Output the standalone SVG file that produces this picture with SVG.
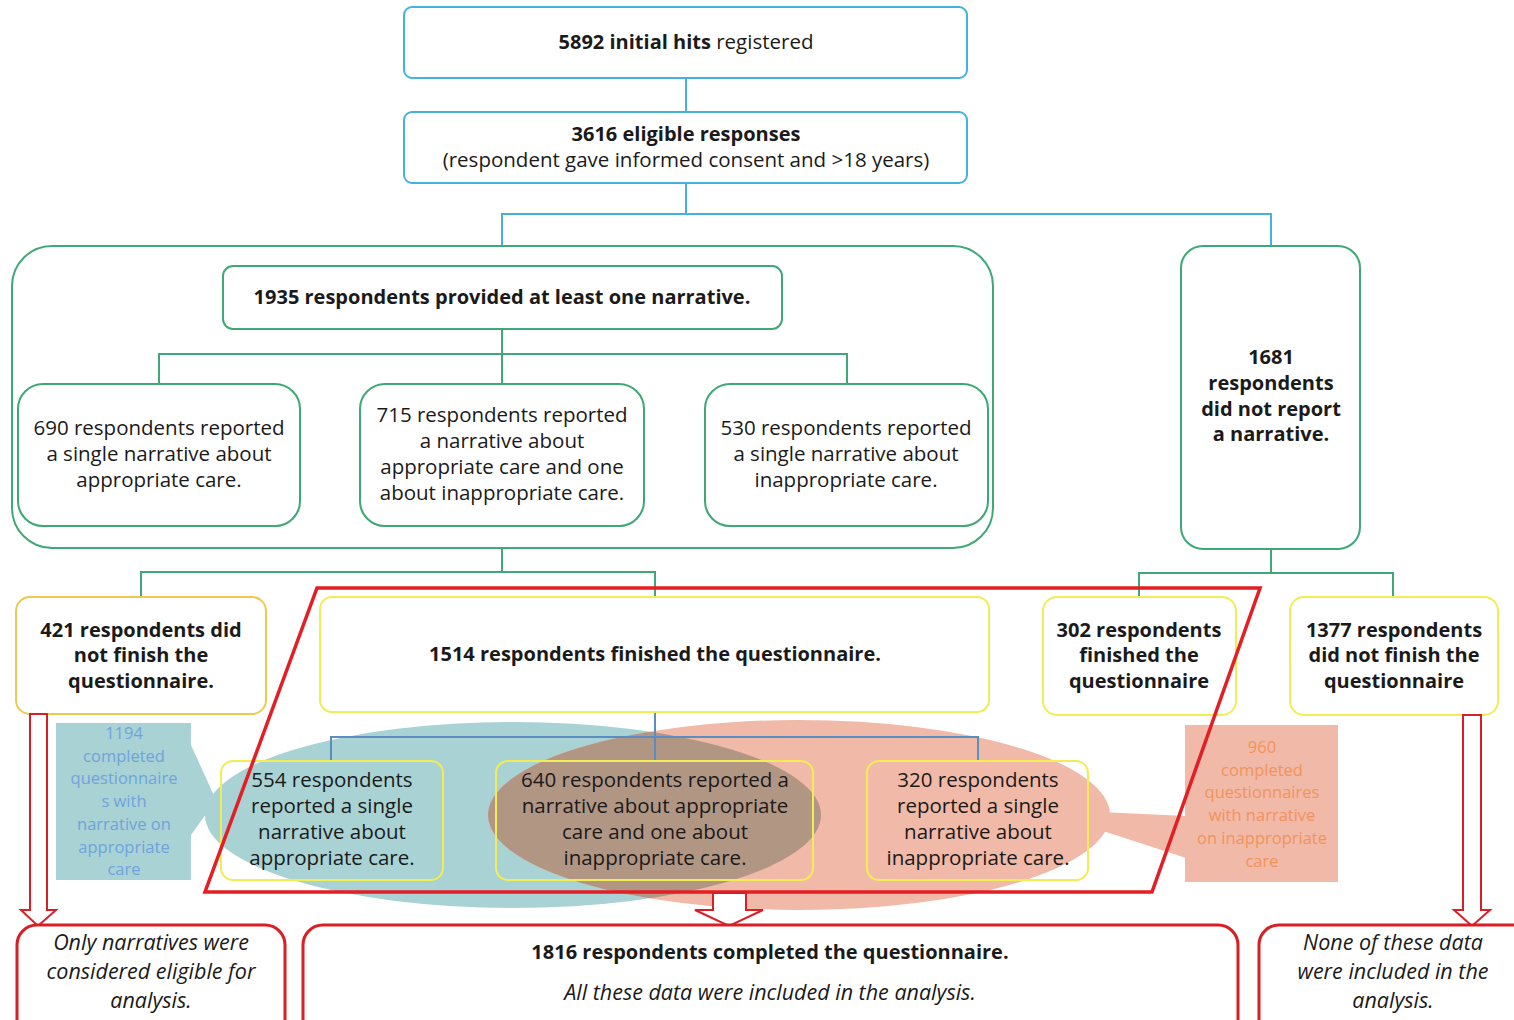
<svg xmlns="http://www.w3.org/2000/svg" width="1514" height="1020" viewBox="0 0 1514 1020">
<defs>
<style>
text{font-family:"Open Sans","Noto Sans","Liberation Sans",sans-serif;fill:#1a1a1a;text-anchor:middle}
.t{font-size:20.5px}
.b{font-weight:bold;font-size:20px}
.i{font-style:italic;font-size:21.5px}
.bluebox{fill:#fff;stroke:#45b1e0;stroke-width:2}
.greenbox{fill:none;stroke:#3fa877;stroke-width:2}
.yel{fill:none;stroke:#f2ec55;stroke-width:2}
.gold{fill:#fff;stroke:#f0c84e;stroke-width:2}
.redbox{fill:#fff;stroke:#d81f26;stroke-width:3}
.cb{fill:none;stroke:#45b1e0;stroke-width:2}
.cg{fill:none;stroke:#3fa877;stroke-width:2}
.cs{fill:none;stroke:#5a8ec0;stroke-width:2}
.arrow{fill:#fff;stroke:#d81f26;stroke-width:2}
.ct{font-size:16.5px;fill:#6fa3dc}
.co{font-size:16.5px;fill:#f2935a}
</style>
<clipPath id="tealClip"><ellipse cx="513" cy="815" rx="308" ry="93"/></clipPath>
</defs>

<g id="highlights">
<polygon points="191,745 216,800 191,835" fill="#a9d2d5"/>
<rect x="56" y="723" width="135" height="157" fill="#a9d2d5"/>
<polygon points="1100,812 1186,816 1186,858 1100,830" fill="#f1b9a7"/>
<rect x="1185" y="725" width="153" height="157" fill="#f1b9a7"/>
<ellipse cx="513" cy="815" rx="308" ry="93" fill="#a9d2d5"/>
<ellipse cx="799" cy="815" rx="311" ry="95" fill="#f1b9a7"/>
<ellipse cx="799" cy="815" rx="311" ry="95" fill="#b29684" clip-path="url(#tealClip)"/>
<text class="ct" x="124" y="739">1194</text>
<text class="ct" x="124" y="762">completed</text>
<text class="ct" x="124" y="784">questionnaire</text>
<text class="ct" x="124" y="807">s with</text>
<text class="ct" x="124" y="830">narrative on</text>
<text class="ct" x="124" y="853">appropriate</text>
<text class="ct" x="124" y="875">care</text>
<text class="co" x="1262" y="753">960</text>
<text class="co" x="1262" y="776">completed</text>
<text class="co" x="1262" y="798">questionnaires</text>
<text class="co" x="1262" y="821">with narrative</text>
<text class="co" x="1262" y="844">on inappropriate</text>
<text class="co" x="1262" y="867">care</text>
</g>

<g id="connectors">
<line class="cb" x1="686" y1="78" x2="686" y2="112"/>
<polyline class="cb" points="686,183 686,214"/>
<polyline class="cb" points="502,246 502,214 1271,214 1271,246"/>
<polyline class="cg" points="502,329 502,354"/>
<polyline class="cg" points="159,384 159,354 847,354 847,384"/>
<line class="cg" x1="502" y1="354" x2="502" y2="384"/>
<polyline class="cg" points="502,548 502,572"/>
<polyline class="cg" points="141,597 141,572 655,572 655,597"/>
<polyline class="cg" points="1271,549 1271,573"/>
<polyline class="cg" points="1139,597 1139,573 1393,573 1393,597"/>
<polyline class="cs" points="655,712 655,761"/>
<polyline class="cs" points="331,761 331,737 978,737 978,761"/>
</g>

<g id="n5892">
<rect class="bluebox" x="404" y="7" width="563" height="71" rx="8"/>
<text class="t" x="686" y="49"><tspan class="b">5892 initial hits</tspan> registered</text>
</g>
<g id="n3616">
<rect class="bluebox" x="404" y="112" width="563" height="71" rx="8"/>
<text class="t b" x="686" y="141">3616 eligible responses</text>
<text class="t" x="686" y="167">(respondent gave informed consent and &gt;18 years)</text>
</g>
<g id="narrativeGroup">
<rect class="greenbox" x="12" y="246" width="981" height="302" rx="40"/>
</g>
<g id="n1935">
<rect class="greenbox" x="223" y="266" width="559" height="63" rx="10"/>
<text class="t b" x="502" y="304">1935 respondents provided at least one narrative.</text>
</g>
<g id="n690">
<rect class="greenbox" x="18" y="384" width="282" height="142" rx="25"/>
<text class="t" x="159" y="435">690 respondents reported</text>
<text class="t" x="159" y="461">a single narrative about</text>
<text class="t" x="159" y="487">appropriate care.</text>
</g>
<g id="n715">
<rect class="greenbox" x="360" y="384" width="284" height="142" rx="25"/>
<text class="t" x="502" y="422">715 respondents reported</text>
<text class="t" x="502" y="448">a narrative about</text>
<text class="t" x="502" y="474">appropriate care and one</text>
<text class="t" x="502" y="500">about inappropriate care.</text>
</g>
<g id="n530">
<rect class="greenbox" x="705" y="384" width="283" height="142" rx="25"/>
<text class="t" x="846" y="435">530 respondents reported</text>
<text class="t" x="846" y="461">a single narrative about</text>
<text class="t" x="846" y="487">inappropriate care.</text>
</g>
<g id="n1681">
<rect class="greenbox" x="1181" y="246" width="179" height="303" rx="22"/>
<text class="t b" x="1271" y="364">1681</text>
<text class="t b" x="1271" y="390">respondents</text>
<text class="t b" x="1271" y="416">did not report</text>
<text class="t b" x="1271" y="441">a narrative.</text>
</g>
<g id="n421">
<rect class="gold" x="16" y="597" width="250" height="117" rx="14"/>
<text class="t b" x="141" y="637">421 respondents did</text>
<text class="t b" x="141" y="662">not finish the</text>
<text class="t b" x="141" y="688">questionnaire.</text>
</g>
<g id="n1514">
<rect class="yel" x="320" y="597" width="669" height="115" rx="12"/>
<text class="t b" x="655" y="661">1514 respondents finished the questionnaire.</text>
</g>
<g id="n302">
<rect class="yel" x="1043" y="597" width="193" height="118" rx="14"/>
<text class="t b" x="1139" y="637">302 respondents</text>
<text class="t b" x="1139" y="662">finished the</text>
<text class="t b" x="1139" y="688">questionnaire</text>
</g>
<g id="n1377">
<rect class="yel" x="1290" y="597" width="208" height="118" rx="14"/>
<text class="t b" x="1394" y="637">1377 respondents</text>
<text class="t b" x="1394" y="662">did not finish the</text>
<text class="t b" x="1394" y="688">questionnaire</text>
</g>
<g id="n554">
<rect class="yel" x="221" y="761" width="222" height="119" rx="12"/>
<text class="t" x="332" y="787">554 respondents</text>
<text class="t" x="332" y="813">reported a single</text>
<text class="t" x="332" y="839">narrative about</text>
<text class="t" x="332" y="865">appropriate care.</text>
</g>
<g id="n640">
<rect class="yel" x="496" y="761" width="317" height="119" rx="12"/>
<text class="t" x="655" y="787">640 respondents reported a</text>
<text class="t" x="655" y="813">narrative about appropriate</text>
<text class="t" x="655" y="839">care and one about</text>
<text class="t" x="655" y="865">inappropriate care.</text>
</g>
<g id="n320">
<rect class="yel" x="867" y="761" width="221" height="119" rx="12"/>
<text class="t" x="978" y="787">320 respondents</text>
<text class="t" x="978" y="813">reported a single</text>
<text class="t" x="978" y="839">narrative about</text>
<text class="t" x="978" y="865">inappropriate care.</text>
</g>

<g id="completedFrame">
<polygon points="317,588 1260,588 1152,892 205,892" fill="none" stroke="#e31e24" stroke-width="3.5"/>
</g>

<g id="arrows">
<polygon class="arrow" points="30,714 47,714 47,910 56,910 38,926 21,910 30,910"/>
<polygon class="arrow" points="713,893 746,893 746,910 763,910 729,926 695,910 713,910"/>
<polygon class="arrow" points="1463,715 1481,715 1481,910 1490,910 1472,926 1454,910 1463,910"/>
</g>

<g id="nOnly">
<rect class="redbox" x="17" y="925" width="268" height="120" rx="20"/>
<text class="t i" x="151" y="950">Only narratives were</text>
<text class="t i" x="151" y="979">considered eligible for</text>
<text class="t i" x="151" y="1008">analysis.</text>
</g>
<g id="n1816">
<rect class="redbox" x="303" y="925" width="935" height="120" rx="20"/>
<text class="t b" x="770" y="959">1816 respondents completed the questionnaire.</text>
<text class="t i" x="770" y="1000">All these data were included in the analysis.</text>
</g>
<g id="nNone">
<rect class="redbox" x="1259" y="925" width="280" height="120" rx="20"/>
<text class="t i" x="1393" y="950">None of these data</text>
<text class="t i" x="1393" y="979">were included in the</text>
<text class="t i" x="1393" y="1008">analysis.</text>
</g>
</svg>
